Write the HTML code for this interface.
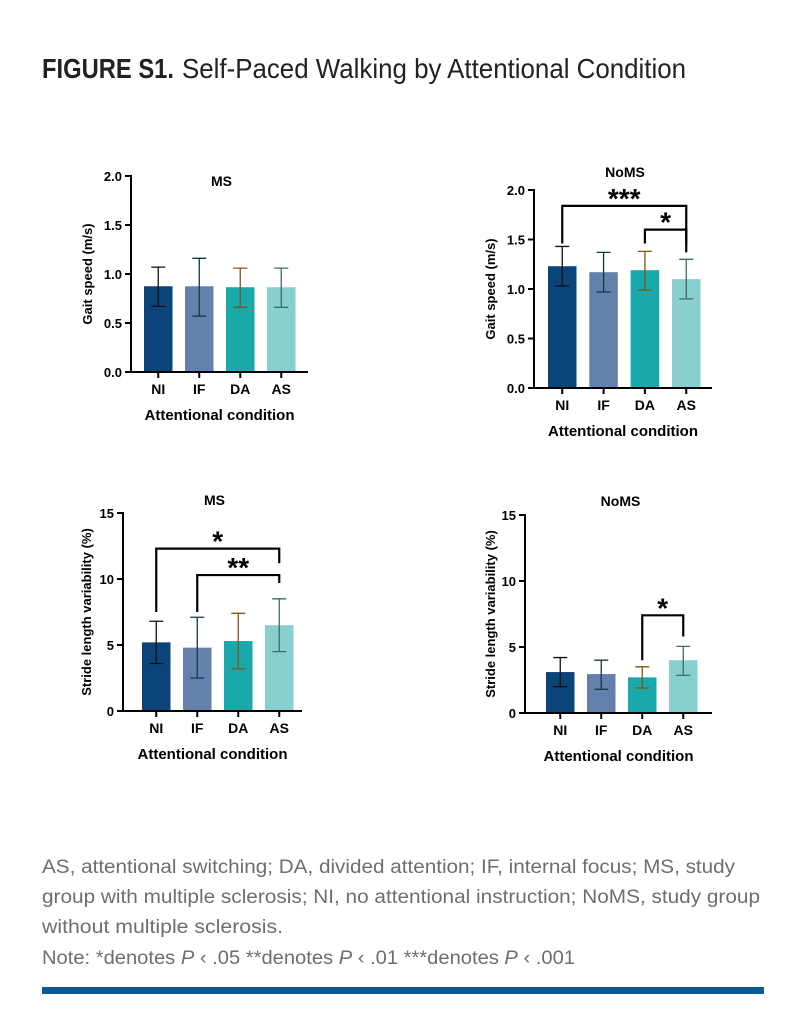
<!DOCTYPE html>
<html><head><meta charset="utf-8"><style>
html,body{margin:0;padding:0;background:#fff;}
svg{display:block;font-family:"Liberation Sans",Arial,sans-serif;}
</style></head><body>
<svg id="fig" width="796" height="1032" viewBox="0 0 796 1032">
<text x="42" y="78" font-size="28" font-weight="bold" fill="#222" textLength="132" lengthAdjust="spacingAndGlyphs">FIGURE S1.</text>
<text x="182" y="78" font-size="28" fill="#222" textLength="504" lengthAdjust="spacingAndGlyphs">Self-Paced Walking by Attentional Condition</text>
<g fill="#6e6e6e" font-size="19">
<text x="42" y="873" textLength="693" lengthAdjust="spacingAndGlyphs">AS, attentional switching; DA, divided attention; IF, internal focus; MS, study</text>
<text x="42" y="903" textLength="718" lengthAdjust="spacingAndGlyphs">group with multiple sclerosis; NI, no attentional instruction; NoMS, study group</text>
<text x="42" y="933" textLength="241" lengthAdjust="spacingAndGlyphs">without multiple sclerosis.</text>
<text x="42" y="964" textLength="533" lengthAdjust="spacingAndGlyphs">Note: *denotes <tspan font-style="italic">P</tspan> ‹ .05 **denotes <tspan font-style="italic">P</tspan> ‹ .01 ***denotes <tspan font-style="italic">P</tspan> ‹ .001</text>
</g>
<rect x="42" y="987" width="722" height="7" fill="#0a5a96"/>
</svg>
<script>
const categories = ["NI","IF","DA","AS"];
const msSpeedMean = [0.875,0.875,0.865,0.865];
const msSpeedLo = [0.67,0.57,0.66,0.66];
const msSpeedHi = [1.07,1.16,1.06,1.06];
const nomsSpeedMean = [1.23,1.17,1.19,1.10];
const nomsSpeedLo = [1.03,0.97,0.99,0.90];
const nomsSpeedHi = [1.43,1.37,1.38,1.30];
const msStrideMean = [5.2,4.8,5.3,6.5];
const msStrideLo = [3.6,2.5,3.2,4.5];
const msStrideHi = [6.8,7.1,7.4,8.5];
const nomsStrideMean = [3.1,2.95,2.7,4.0];
const nomsStrideLo = [2.0,1.8,1.9,2.85];
const nomsStrideHi = [4.2,4.0,3.5,5.05];
const speedTicks = [0,0.5,1.0,1.5,2.0];
const speedTickLabels = ["0.0","0.5","1.0","1.5","2.0"];
const strideTicks = [0,5,10,15];
const strideTickLabels = ["0","5","10","15"];
// brackets: [fromIndex,toIndex,level,fromEnd,toEnd,label]
const nomsSpeedBrackets = [[0,3,1.84,1.46,1.46,"***"],[2,3,1.60,1.46,1.37,"*"]];
const msStrideBrackets = [[0,3,12.3,7.5,11.2,"*"],[1,3,10.3,7.5,9.7,"**"]];
const nomsStrideBrackets = [[2,3,7.4,4.0,5.8,"*"]];

const barColors=["#0b4478","#6680ad","#1aa9aa","#8acfcf"];
const errColors=["#111","#143840","#7a5818","#3a6e68"];
const NS="http://www.w3.org/2000/svg";
const svg=document.getElementById('fig');
function mk(t,a,p){const e=document.createElementNS(NS,t);for(const k in a)e.setAttribute(k,a[k]);(p||svg).appendChild(e);return e;}

function panel(o){
  const g=mk('g',{});
  
  
  const y=v=>o.y0-(v-o.min)/(o.max-o.min)*(o.y0-o.y1);
  const bw=28.5, step=(o.bar3-o.bar0)/3;
  const cx=i=>o.bar0+bw/2+i*step;
  o.mean.forEach((m,i)=>{
    const r=mk('rect',{x:cx(i)-bw/2,y:y(m),width:bw,height:o.y0-y(m),fill:barColors[i]},g);
    
    
    const e=mk('path',{d:`M${cx(i)-7} ${y(o.hi[i])}H${cx(i)+7}M${cx(i)} ${y(o.hi[i])}V${y(o.lo[i])}M${cx(i)-7} ${y(o.lo[i])}H${cx(i)+7}`,stroke:errColors[i],'stroke-width':1.3,fill:'none'},g);
    
    
  });
  const ax=mk('path',{d:`M${o.ax} ${o.y1-1}V${o.y0}H${o.axEnd}`,stroke:'#000','stroke-width':2,fill:'none'},g);
  
  
  o.ticks.forEach((t,k)=>{
    mk('line',{x1:o.ax-6,x2:o.ax,y1:y(t),y2:y(t),stroke:'#000','stroke-width':2},g);
    const tl=mk('text',{x:o.ax-9,y:y(t)+5,'text-anchor':'end','font-size':13,'font-weight':'bold'},g);
    tl.textContent=o.tickLabels[k];
    
    
  });
  categories.forEach((c,i)=>{
    mk('line',{x1:cx(i),x2:cx(i),y1:o.y0,y2:o.y0+6,stroke:'#000','stroke-width':2},g);
    const tl=mk('text',{x:cx(i),y:o.y0+22,'text-anchor':'middle','font-size':14,'font-weight':'bold'},g);
    tl.textContent=c;
    
    
  });
  const xt=mk('text',{x:(o.ax+o.axEnd)/2,y:o.y0+48,'text-anchor':'middle','font-size':15,'font-weight':'bold'},g);
  xt.textContent='Attentional condition';
  
  
  const yt=mk('text',{transform:`translate(${o.ytx},${(o.y0+o.y1)/2}) rotate(-90)`,'text-anchor':'middle','font-size':13,'font-weight':'bold'},g);
  yt.textContent=o.ytitle;
  
  
  const tt=mk('text',{x:(o.ax+o.axEnd)/2+2,y:o.titleY,'text-anchor':'middle','font-size':14,'font-weight':'bold'},g);
  tt.textContent=o.title;
  
  
  (o.brackets||[]).forEach(b=>{
    const [a,c,lv,fe,te,lab]=b;
    const p=mk('path',{d:`M${cx(a)} ${y(fe)}V${y(lv)}H${cx(c)}V${y(te)}`,stroke:'#000','stroke-width':2.2,fill:'none'},g);
    
    
    const s=mk('text',{x:(cx(a)+cx(c))/2,y:y(lv)+2,'text-anchor':'middle','font-size':28,'font-weight':'bold'},g);
    s.textContent=lab;
    
    
  });
}
panel({name:'panel-ms-gait-speed',title:'MS',titleY:186,ax:131,axEnd:308,y0:372,y1:176,min:0,max:2,bar0:144,bar3:267,mean:msSpeedMean,lo:msSpeedLo,hi:msSpeedHi,ticks:speedTicks,tickLabels:speedTickLabels,ytitle:'Gait speed (m/s)',ytx:92});
panel({name:'panel-noms-gait-speed',title:'NoMS',titleY:177,ax:534,axEnd:712,y0:388,y1:190,min:0,max:2,bar0:548,bar3:672,mean:nomsSpeedMean,lo:nomsSpeedLo,hi:nomsSpeedHi,ticks:speedTicks,tickLabels:speedTickLabels,ytitle:'Gait speed (m/s)',ytx:495,brackets:nomsSpeedBrackets});
panel({name:'panel-ms-stride-variability',title:'MS',titleY:505,ax:123,axEnd:302,y0:711,y1:513,min:0,max:15,bar0:142,bar3:265,mean:msStrideMean,lo:msStrideLo,hi:msStrideHi,ticks:strideTicks,tickLabels:strideTickLabels,ytitle:'Stride length variability (%)',ytx:91,brackets:msStrideBrackets});
panel({name:'panel-noms-stride-variability',title:'NoMS',titleY:506,ax:525,axEnd:712,y0:713,y1:515,min:0,max:15,bar0:546,bar3:669,mean:nomsStrideMean,lo:nomsStrideLo,hi:nomsStrideHi,ticks:strideTicks,tickLabels:strideTickLabels,ytitle:'Stride length variability (%)',ytx:495,brackets:nomsStrideBrackets});
</script>
</body></html>
